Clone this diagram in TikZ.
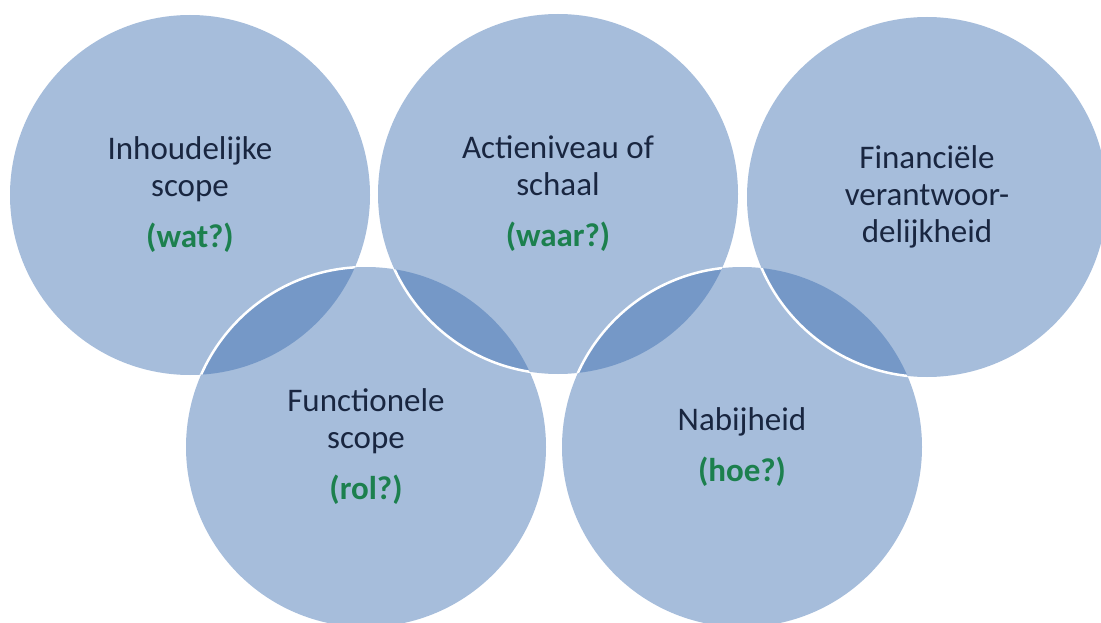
\documentclass[tikz,border=0pt]{standalone}
\usepackage{fontspec}
\setmainfont{Carlito}
\usepackage{tikz}
\definecolor{ringblue}{RGB}{57,108,175}
\definecolor{textnavy}{RGB}{25,38,64}
\definecolor{qgreen}{RGB}{28,128,78}
\newcommand{\askq}[1]{{\color{qgreen}\bfseries #1}}

\begin{document}
\begin{tikzpicture}[x=1pt,y=-1pt,
    ring/.style={fill=ringblue,fill opacity=0.45},
    rim/.style={white,line width=2.5pt},
    ringtext/.style={align=center,text=textnavy,font=\fontsize{33}{37}\selectfont}]
    \useasboundingbox (0,0) rectangle (1101,623);
    \coordinate (inhoud) at (190,195);
    \coordinate (actie) at (558,194);
    \coordinate (financ) at (927,197);
    \coordinate (functie) at (366,447);
    \coordinate (nabij) at (742,447);
    \fill[ring] (inhoud) circle[radius=180pt];
    \fill[ring] (actie) circle[radius=180pt];
    \fill[ring] (financ) circle[radius=180pt];
    \fill[ring] (functie) circle[radius=180pt];
    \fill[ring] (nabij) circle[radius=180pt];
    % white rims where one ring passes over the other
    \begin{scope}
        \clip (inhoud) circle[radius=180pt];
        \draw[rim] (functie) circle[radius=180pt];
    \end{scope}
    \begin{scope}
        \clip (functie) circle[radius=180pt];
        \draw[rim] (actie) circle[radius=180pt];
    \end{scope}
    \begin{scope}
        \clip (actie) circle[radius=180pt];
        \draw[rim] (nabij) circle[radius=180pt];
    \end{scope}
    \begin{scope}
        \clip (nabij) circle[radius=180pt];
        \draw[rim] (financ) circle[radius=180pt];
    \end{scope}
    \node[ringtext] (inhoudtxt) at (inhoud) {Inhoudelijke\\scope\\[14pt]\askq{(wat?)}};
    \node[ringtext] (actietxt) at (actie) {Actieniveau of\\schaal\\[14pt]\askq{(waar?)}};
    \node[ringtext] (financtxt) at (financ) {Financiële\\verantwoor-\\delijkheid};
    \node[ringtext] (functietxt) at (functie) {Functionele\\scope\\[14pt]\askq{(rol?)}};
    \node[ringtext] (nabijtxt) at (nabij) {Nabijheid\\[14pt]\askq{(hoe?)}};
\end{tikzpicture}
\end{document}
